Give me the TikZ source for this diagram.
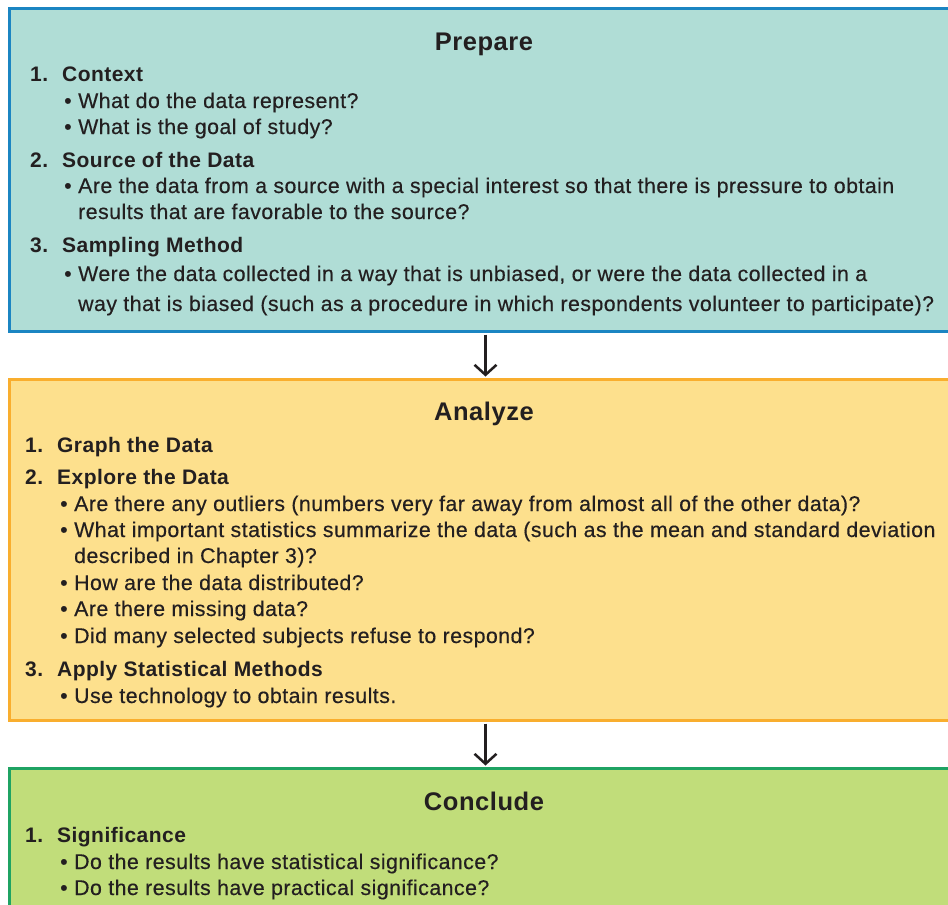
\documentclass[tikz,border=0pt]{standalone}
\usepackage{fontspec}
\setmainfont{Liberation Sans}[LetterSpace=2.2]
\usepackage{xcolor}
\usetikzlibrary{arrows.meta}

\definecolor{prepfill}{HTML}{B0DDD6}
\definecolor{prepline}{HTML}{1B85C2}
\definecolor{anafill}{HTML}{FDE08D}
\definecolor{analine}{HTML}{F9AE2E}
\definecolor{concfill}{HTML}{C1DD7A}
\definecolor{concline}{HTML}{1FA363}
\definecolor{ink}{HTML}{231F20}

\newcommand{\numit}[2]{\makebox[32pt][l]{#1}#2}
\newcommand{\bulit}[1]{\makebox[14pt][l]{\textbullet}#1}

\begin{document}
\begin{tikzpicture}[x=1pt,y=-1pt,
    stage/.style={draw,line width=3pt,minimum width=952pt,anchor=north west,inner sep=0pt},
    title/.style={anchor=base,inner sep=0pt,text=ink,font=\fontsize{25.5}{30}\selectfont\bfseries},
    item/.style={anchor=base west,inner sep=0pt,text=ink,font=\fontsize{21}{24}\selectfont\bfseries},
    point/.style={anchor=base west,inner sep=0pt,text=ink,font=\fontsize{21.3}{24}\selectfont\addfontfeature{FakeBold=0.4}},
    flow/.style={draw=ink,line width=2.5pt,-{Straight Barb[length=10pt,width=22pt,line width=2.5pt]}}]
  \clip (0,0) rectangle (948,905);
  \fill[white] (0,0) rectangle (948,905);
  % boxes
  \node[stage,draw=prepline,fill=prepfill,minimum height=323pt] (prep) at (8,7) {};
  \node[stage,draw=analine,fill=anafill,minimum height=341pt] (ana) at (8,378) {};
  \node[stage,draw=concline,fill=concfill,minimum height=200pt] (conc) at (8,767) {};
  \path (prep.south) ++(0,1.5) coordinate (a1) (ana.north) ++(0,-1.5) coordinate (a2);
  \draw[flow] (a1) -- (a2);
  \path (ana.south) ++(0,1.5) coordinate (b1) (conc.north) ++(0,-1.5) coordinate (b2);
  \draw[flow] (b1) -- (b2);

  % Prepare
  \node[title] (prepT) at (484,50) {Prepare};
  \node[item] (p1) at (30,81) {\numit{1.}{Context}};
  \node[point] (p1a) at (64,108) {\bulit{What do the data represent?}};
  \node[point] (p1b) at (64,134) {\bulit{What is the goal of study?}};
  \node[item] (p2) at (30,167) {\numit{2.}{Source of the Data}};
  \node[point] (p2a) at (64,193) {\bulit{Are the data from a source with a special interest so that there is pressure to obtain}};
  \node[point] (p2b) at (78,219) {results that are favorable to the source?};
  \node[item] (p3) at (30,252) {\numit{3.}{Sampling Method}};
  \node[point] (p3a) at (64,281) {\bulit{Were the data collected in a way that is unbiased, or were the data collected in a}};
  \node[point] (p3b) at (78,311) {way that is biased (such as a procedure in which respondents volunteer to participate)?};

  % Analyze
  \node[title] (anaT) at (484,420) {Analyze};
  \node[item] (n1) at (25,452) {\numit{1.}{Graph the Data}};
  \node[item] (n2) at (25,484) {\numit{2.}{Explore the Data}};
  \node[point] (n2a) at (60,511) {\bulit{Are there any outliers (numbers very far away from almost all of the other data)?}};
  \node[point] (n2b) at (60,537) {\bulit{What important statistics summarize the data (such as the mean and standard deviation}};
  \node[point] (n2c) at (74,563) {described in Chapter 3)?};
  \node[point] (n2d) at (60,590) {\bulit{How are the data distributed?}};
  \node[point] (n2e) at (60,616) {\bulit{Are there missing data?}};
  \node[point] (n2f) at (60,643) {\bulit{Did many selected subjects refuse to respond?}};
  \node[item] (n3) at (25,676) {\numit{3.}{Apply Statistical Methods}};
  \node[point] (n3a) at (60,703) {\bulit{Use technology to obtain results.}};

  % Conclude
  \node[title] (concT) at (484,810) {Conclude};
  \node[item] (c1) at (25,842) {\numit{1.}{Significance}};
  \node[point] (c1a) at (60,869) {\bulit{Do the results have statistical significance?}};
  \node[point] (c1b) at (60,895) {\bulit{Do the results have practical significance?}};
\end{tikzpicture}
\end{document}
